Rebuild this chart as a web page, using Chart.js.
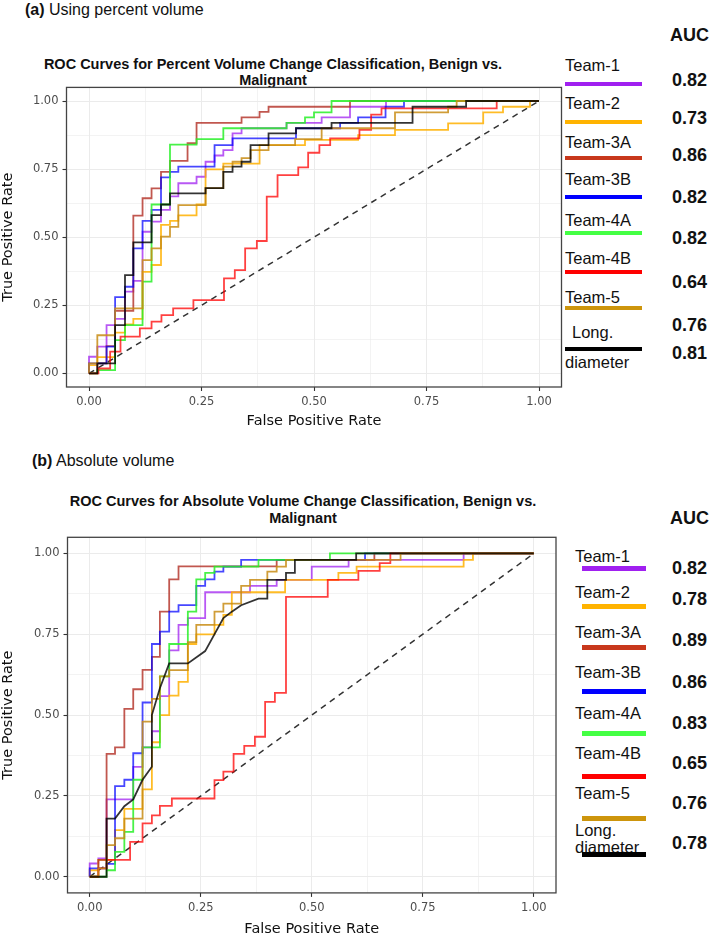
<!DOCTYPE html>
<html><head><meta charset="utf-8">
<script src="https://cdn.jsdelivr.net/npm/chart.js@4.4.0/dist/chart.umd.min.js"></script>
<style>
html,body{margin:0;padding:0;background:#fff;}
body{width:709px;height:938px;position:relative;overflow:hidden;font-family:"Liberation Sans",Arial,sans-serif;color:#111;}
.abs{position:absolute;white-space:nowrap;}
.panel{font-size:16px;line-height:18px;}
.title{font-weight:bold;font-size:14.5px;text-align:center;width:560px;}
canvas{position:absolute;left:0;}
.lg{font-size:16.5px;line-height:18px;}
.auc{font-weight:bold;font-size:18px;line-height:20px;}
</style></head><body>
<div class="abs panel" style="left:25px;top:1px"><b>(a)</b> Using percent volume</div>
<div class="abs title" style="left:-7px;top:57px;line-height:15.5px">ROC Curves for Percent Volume Change Classification, Benign vs.<br>Malignant</div>
<div class="abs panel" style="left:32px;top:452px"><b>(b)</b> Absolute volume</div>
<div class="abs title" style="left:23px;top:493px;line-height:16.6px">ROC Curves for Absolute Volume Change Classification, Benign vs.<br>Malignant</div>
<canvas id="c1" width="565" height="390" style="top:40px"></canvas>
<canvas id="c2" width="565" height="468" style="top:470px"></canvas>
<div id="legend"></div>
<script>
// ---------- data ----------
const teams = ['Team-1','Team-2','Team-3A','Team-3B','Team-4A','Team-4B','Team-5','Long. diameter'];
const aucPercent  = ['0.82','0.73','0.86','0.82','0.82','0.64','0.76','0.81'];
const aucAbsolute = ['0.82','0.78','0.89','0.86','0.83','0.65','0.76','0.78'];
const tickValues = [0, 0.25, 0.5, 0.75, 1];

// Percent volume: step curves (FPR where TPR jumps, new TPR)
const pctT1X  = [0,0.0185,0.039,0.058,0.08,0.0985,0.119,0.139,0.16,0.18,0.1985,0.239,0.259,0.279,0.2985,0.319,0.339,0.439,0.517,0.58,0.66];
const pctT1Y  = [0.061,0.098,0.177,0.2,0.3,0.34,0.52,0.557,0.6,0.65,0.698,0.722,0.777,0.8,0.82,0.881,0.9,0.92,0.94,0.979,1];
const pctT2X  = [0,0.0185,0.058,0.08,0.0985,0.119,0.139,0.16,0.18,0.1985,0.239,0.259,0.2985,0.379,0.48,0.598,0.68,0.798,0.876,0.92,0.98];
const pctT2Y  = [0.03,0.06,0.15,0.18,0.2,0.373,0.398,0.545,0.56,0.58,0.62,0.749,0.77,0.838,0.857,0.875,0.894,0.918,0.958,0.979,1];
const pctT3AX = [0.0185,0.039,0.058,0.0985,0.119,0.139,0.16,0.18,0.219,0.239,0.339,0.379,0.399,0.58];
const pctT3AY = [0.037,0.1,0.23,0.579,0.643,0.679,0.74,0.78,0.845,0.92,0.94,0.96,0.979,1];
const pctT3BX = [0,0.039,0.058,0.08,0.0985,0.119,0.139,0.16,0.18,0.1985,0.279,0.319,0.46,0.558,0.598,0.659,0.70];
const pctT3BY = [0.037,0.098,0.28,0.318,0.459,0.56,0.6,0.72,0.74,0.759,0.838,0.863,0.9,0.92,0.94,0.979,1];
const pctT4AX = [0.0185,0.058,0.08,0.119,0.139,0.18,0.239,0.2985,0.439,0.48,0.5,0.539];
const pctT4AY = [0.012,0.122,0.177,0.337,0.62,0.84,0.86,0.9,0.92,0.94,0.958,1];
const pctT4BX = [0.021,0.047,0.07,0.113,0.139,0.161,0.187,0.232,0.3,0.324,0.347,0.373,0.395,0.419,0.465,0.487,0.512,0.536,0.601,0.627,0.65,0.906];
const pctT4BY = [0.018,0.08,0.135,0.165,0.19,0.214,0.239,0.269,0.349,0.379,0.459,0.486,0.649,0.728,0.756,0.81,0.838,0.863,0.894,0.95,0.973,1];
const pctT5X  = [0,0.0185,0.058,0.119,0.139,0.16,0.18,0.1985,0.259,0.2985,0.319,0.339,0.359,0.399,0.458,0.517,0.68,0.798,0.817];
const pctT5Y  = [0.037,0.14,0.239,0.416,0.459,0.502,0.538,0.618,0.68,0.759,0.777,0.79,0.82,0.838,0.86,0.9,0.958,0.979,1];
const pctLDX  = [0.0185,0.058,0.08,0.0985,0.139,0.16,0.18,0.259,0.2985,0.319,0.339,0.359,0.399,0.46,0.539,0.719,0.838];
const pctLDY  = [0.037,0.177,0.361,0.481,0.581,0.62,0.661,0.68,0.74,0.759,0.777,0.838,0.881,0.9,0.92,0.979,1];

// Absolute volume
const absT1X  = [0,0.0195,0.038,0.098,0.119,0.14,0.158,0.179,0.2,0.221,0.26,0.361,0.421,0.5,0.583,0.842];
const absT1Y  = [0.041,0.057,0.239,0.34,0.4,0.45,0.559,0.7,0.779,0.8,0.88,0.9,0.918,0.959,0.98,1];
const absT2X  = [0,0.0195,0.057,0.078,0.119,0.14,0.158,0.179,0.2,0.221,0.24,0.281,0.301,0.32,0.44,0.56,0.601,0.842,0.863];
const absT2Y  = [0.02,0.052,0.144,0.21,0.27,0.416,0.5,0.56,0.603,0.72,0.75,0.779,0.81,0.88,0.918,0.94,0.959,0.98,1];
const absT3AX = [0.0195,0.038,0.057,0.078,0.098,0.119,0.14,0.158,0.179,0.2,0.421,0.641];
const absT3AY = [0.052,0.38,0.40,0.519,0.58,0.64,0.68,0.82,0.92,0.96,0.98,1];
const absT3BX = [0,0.038,0.057,0.078,0.098,0.119,0.14,0.158,0.179,0.2,0.24,0.26,0.281,0.301,0.341,0.62];
const absT3BY = [0.026,0.04,0.28,0.3,0.382,0.539,0.72,0.758,0.82,0.84,0.9,0.92,0.944,0.959,0.98,1];
const absT4AX = [0.038,0.057,0.078,0.098,0.119,0.158,0.179,0.221,0.24,0.26,0.281,0.38,0.541];
const absT4AY = [0.02,0.077,0.139,0.3,0.4,0.62,0.72,0.82,0.92,0.94,0.959,0.98,1];
const absT4BX = [0.0195,0.038,0.091,0.119,0.14,0.158,0.185,0.281,0.301,0.324,0.348,0.372,0.395,0.417,0.442,0.536,0.605,0.653,0.677];
const absT4BY = [0.026,0.052,0.108,0.165,0.19,0.219,0.242,0.299,0.325,0.38,0.405,0.433,0.541,0.569,0.866,0.918,0.946,0.97,1];
const absT5X  = [0.0195,0.038,0.057,0.078,0.119,0.14,0.158,0.179,0.221,0.24,0.281,0.301,0.341,0.361,0.4,0.421,0.442,0.70];
const absT5Y  = [0.026,0.098,0.119,0.18,0.48,0.55,0.62,0.639,0.726,0.779,0.82,0.845,0.9,0.918,0.944,0.959,0.98,1];
// Long. diameter (absolute): explicit ROC points (has sloped segments)
const absLDFpr = [0,0.038,0.038,0.057,0.078,0.098,0.119,0.14,0.14,0.158,0.179,0.221,0.26,0.301,0.32,0.341,0.38,0.4,0.4,0.442,0.442,0.462,0.462,0.6,0.6,1];
const absLDTpr = [0,0,0.18,0.18,0.218,0.239,0.30,0.34,0.5,0.583,0.66,0.66,0.698,0.8,0.82,0.84,0.86,0.86,0.918,0.918,0.94,0.94,0.98,0.98,1,1];

const chance = [0, 1];

// ---------- styles ----------
const lineColors = ['rgba(160,32,240,0.75)','rgba(255,176,0,0.85)','rgba(178,45,35,0.8)','rgba(0,0,255,0.72)',
                    'rgba(40,240,40,0.85)','rgba(255,0,0,0.75)','rgba(200,140,20,0.85)','rgba(0,0,0,0.8)'];
const legendColors = ['#a020f0','#ffb300','#c8381c','#0000ff','#44ff44','#ff0000','#cd950c','#000000'];

function stepPts(xs, ys) {
  const p = [{x:0, y:0}]; let y = 0;
  for (let i = 0; i < xs.length; i++) { p.push({x:xs[i], y}); p.push({x:xs[i], y:ys[i]}); y = ys[i]; }
  p.push({x:1, y}); return p;
}
function rawPts(xs, ys) { return xs.map((x, i) => ({x, y:ys[i]})); }

const pctSeries = [stepPts(pctT1X,pctT1Y), stepPts(pctT2X,pctT2Y), stepPts(pctT3AX,pctT3AY), stepPts(pctT3BX,pctT3BY),
                   stepPts(pctT4AX,pctT4AY), stepPts(pctT4BX,pctT4BY), stepPts(pctT5X,pctT5Y), stepPts(pctLDX,pctLDY)];
const absSeries = [stepPts(absT1X,absT1Y), stepPts(absT2X,absT2Y), stepPts(absT3AX,absT3AY), stepPts(absT3BX,absT3BY),
                   stepPts(absT4AX,absT4AY), stepPts(absT4BX,absT4BY), stepPts(absT5X,absT5Y), rawPts(absLDFpr,absLDTpr)];

function buildDatasets(series) {
  const ds = series.map((pts, i) => ({
    label: teams[i], data: pts, borderColor: lineColors[i], borderWidth: 1.8,
    pointRadius: 0, tension: 0, fill: false, order: 7 - i
  }));
  ds.push({ label: 'chance', data: chance.map(v => ({x:v, y:v})), borderColor: '#333', borderWidth: 1.5,
            borderDash: [6,5], pointRadius: 0, fill: false, order: 9 });
  return ds;
}

const isMajor = v => Math.abs(v*4 - Math.round(v*4)) < 1e-6;
const gridVals = [];
tickValues.forEach((v, i) => { gridVals.push(v); if (i < tickValues.length - 1) gridVals.push((v + tickValues[i+1]) / 2); });

function axis(titleText, fit) {
  return {
    type: 'linear', min: -0.05, max: 1.05,
    afterBuildTicks: s => { s.ticks = gridVals.map(v => ({value: v})); },
    afterFit: fit,
    ticks: { autoSkip: false, maxRotation: 0, minRotation: 0, padding: 4, color: '#4d4d4d',
             font: { family: '"DejaVu Sans"', size: 11.5 },
             callback: v => isMajor(v) ? Number(v).toFixed(2) : '' },
    grid: { color: '#ebebeb',
            lineWidth: c => (c.tick && isMajor(c.tick.value)) ? 1 : 0.6,
            tickLength: 4,
            tickColor: c => (c.tick && isMajor(c.tick.value)) ? '#333' : 'rgba(0,0,0,0)',
            tickWidth: 1.1 },
    border: { display: false },
    title: { display: true, text: titleText, color: '#111', padding: 0,
             font: { family: '"DejaVu Sans"', size: 14.5 } }
  };
}

const boxPlugin = { id: 'box', afterDraw(chart) {
  const {ctx, chartArea: a} = chart; ctx.save(); ctx.strokeStyle = '#444'; ctx.lineWidth = 1.3;
  ctx.strokeRect(a.left, a.top, a.right - a.left, a.bottom - a.top); ctx.restore(); } };

function makeChart(id, series, pad, yW, xH) {
  return new Chart(document.getElementById(id), {
    type: 'line',
    data: { datasets: buildDatasets(series) },
    options: {
      responsive: false, animation: false, devicePixelRatio: 1,
      layout: { padding: pad },
      plugins: { legend: { display: false }, tooltip: { enabled: false } },
      scales: {
        x: axis('False Positive Rate', s => { s.height = xH; }),
        y: axis('True Positive Rate', s => { s.width = yW; })
      }
    },
    plugins: [boxPlugin]
  });
}
makeChart('c1', pctSeries, {top: 47.4, right: 3.5, left: 0, bottom: 0}, 66.5, 43);
makeChart('c2', absSeries, {top: 67.3, right: 9, left: 0, bottom: 0}, 67.5, 45.1);

// ---------- legends (layout) ----------
const legTop = { aucY: 35, textX: 565, lineX: 565, lineW: 77, lineH: 4, valX: 672,
  textY: [65,103,142,179,220,258,297], lineY: [84,122,158,197,233,272,308,349], valY: [80,118,155,197,238,282,325,353],
  longX: 572, longY: 332, diaY: 362 };
const legBot = { aucY: 518, textX: 575, lineX: 582, lineW: 64, lineH: 5, valX: 672,
  textY: [556,592,632,672,713,753,793], lineY: [568,606,647,691,733,776,818,854], valY: [568,599,640,682,723,763,803,843],
  longX: 575, longY: 830, diaY: 847 };

function buildLegend(L, aucs) {
  let h = `<div class="abs auc" style="left:${L.valX - 2}px;top:${L.aucY - 10}px">AUC</div>`;
  teams.forEach((t, i) => {
    if (i < 7) h += `<div class="abs lg" style="left:${L.textX}px;top:${L.textY[i] - 9}px">${t}</div>`;
    else {
      const parts = t.split(' ');
      h += `<div class="abs lg" style="left:${L.longX}px;top:${L.longY - 9}px">${parts[0]}</div>`;
      h += `<div class="abs lg" style="left:${L.textX}px;top:${L.diaY - 9}px">${parts[1]}</div>`;
    }
    h += `<div class="abs" style="left:${L.lineX}px;top:${L.lineY[i] - L.lineH/2}px;width:${L.lineW}px;height:${L.lineH}px;background:${legendColors[i]}"></div>`;
    h += `<div class="abs auc" style="left:${L.valX}px;top:${L.valY[i] - 10}px">${aucs[i]}</div>`;
  });
  return h;
}
document.getElementById('legend').innerHTML = buildLegend(legTop, aucPercent) + buildLegend(legBot, aucAbsolute);
</script>
</body></html>
